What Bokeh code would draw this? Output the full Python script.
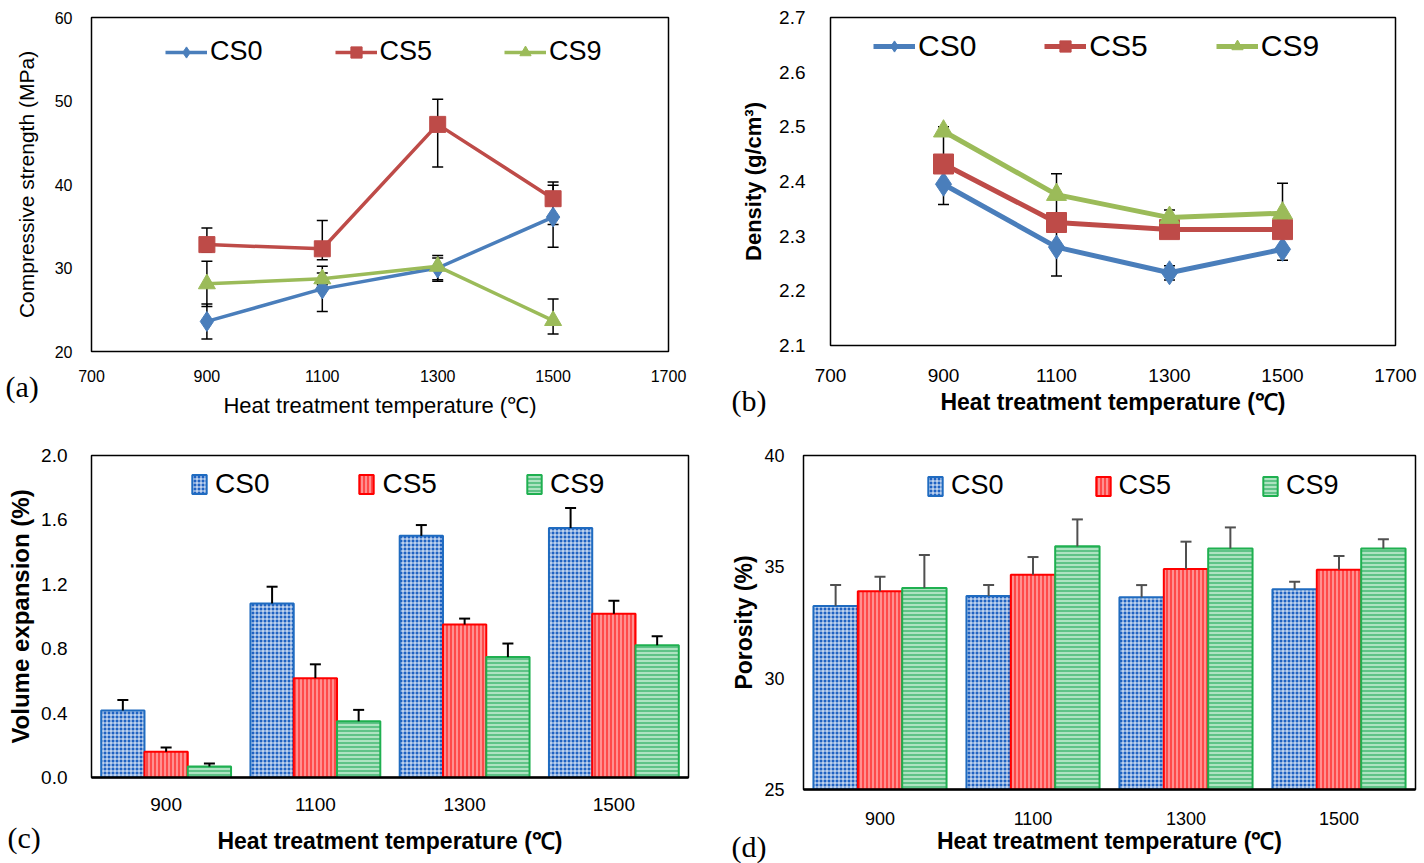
from bokeh.plotting import figure
from bokeh.models import (ColumnDataSource, Whisker, TeeHead, Legend, LegendItem,
                          Label, FixedTicker, Range1d, FactorRange)
from bokeh.transform import dodge
from bokeh.layouts import row, column
from bokeh.embed import file_html
from bokeh.resources import INLINE

# ---------------- data ----------------
temps = [900, 1100, 1300, 1500]
temp_labels = ["900", "1100", "1300", "1500"]
series = ["CS0", "CS5", "CS9"]

# (a) compressive strength (MPa)
strength_cs0 = [23.6, 27.5, 30.0, 36.1]
strength_cs0_lo = [21.5, 24.8, 28.4, 32.5]
strength_cs0_hi = [25.7, 30.2, 31.5, 39.9]
strength_cs5 = [32.8, 32.3, 47.2, 38.3]
strength_cs5_lo = [31.9, 31.0, 42.1, 35.2]
strength_cs5_hi = [34.8, 35.7, 50.2, 40.3]
strength_cs9 = [28.1, 28.7, 30.2, 23.7]
strength_cs9_lo = [25.4, 28.0, 28.6, 22.1]
strength_cs9_hi = [30.8, 29.4, 31.2, 26.3]

# (b) density (g/cm3)
density_cs0 = [2.395, 2.280, 2.233, 2.276]
density_cs0_lo = [2.358, 2.227, 2.220, 2.256]
density_cs0_hi = [2.432, 2.333, 2.246, 2.296]
density_cs5 = [2.432, 2.325, 2.312, 2.312]
density_cs5_lo = [2.424, 2.317, 2.304, 2.304]
density_cs5_hi = [2.440, 2.333, 2.320, 2.320]
density_cs9 = [2.492, 2.376, 2.334, 2.342]
density_cs9_lo = [2.440, 2.338, 2.320, 2.330]
density_cs9_hi = [2.500, 2.414, 2.348, 2.397]

# (c) volume expansion (%)
volume_cs0 = [0.416, 1.081, 1.501, 1.549]
volume_cs0_err = [0.066, 0.104, 0.067, 0.125]
volume_cs5 = [0.160, 0.617, 0.950, 1.017]
volume_cs5_err = [0.027, 0.086, 0.037, 0.081]
volume_cs9 = [0.069, 0.349, 0.748, 0.821]
volume_cs9_err = [0.018, 0.071, 0.084, 0.056]

# (d) porosity (%)
porosity_cs0 = [33.24, 33.69, 33.63, 33.99]
porosity_cs0_err = [0.94, 0.49, 0.55, 0.34]
porosity_cs5 = [33.90, 34.65, 34.90, 34.87]
porosity_cs5_err = [0.66, 0.79, 1.23, 0.62]
porosity_cs9 = [34.05, 35.92, 35.82, 35.82]
porosity_cs9_err = [1.48, 1.21, 0.95, 0.42]

FONT = "Liberation Sans"
SERIF = "Liberation Serif"

line_colors = {"CS0": "#4a7ebb", "CS5": "#be4b48", "CS9": "#9bbb59"}
line_markers = {"CS0": "diamond", "CS5": "square", "CS9": "triangle"}

bar_style = {
    "CS0": dict(fill_color="#1f62c2", line_color="#1f6bc0", hatch_color="white",
                hatch_pattern="cross", hatch_scale=4, hatch_weight=0.9),
    "CS5": dict(fill_color="#ff9090", line_color="#ff0000", hatch_color="#ff2a2a",
                hatch_pattern="vertical_line", hatch_scale=4, hatch_weight=1.4),
    "CS9": dict(fill_color="#aee3c1", line_color="#1fb050", hatch_color="#3cb46e",
                hatch_pattern="horizontal_line", hatch_scale=4, hatch_weight=1.4),
}


def style_axes(p, tick_size, xt_size, yt_size, bold, x_std, y_std, xl_std, yl_std):
    p.outline_line_color = "black"
    p.outline_line_width = 1.5
    p.grid.visible = False
    for ax in p.axis:
        ax.major_tick_line_color = None
        ax.minor_tick_line_color = None
        ax.major_tick_in = 0
        ax.major_tick_out = 0
        ax.minor_tick_out = 0
        ax.axis_line_color = None
        ax.major_label_text_font = FONT
        ax.major_label_text_font_size = tick_size
        ax.major_label_text_color = "black"
        ax.axis_label_text_font = FONT
        ax.axis_label_text_font_style = "bold" if bold else "normal"
        ax.axis_label_text_color = "black"
    p.xaxis.axis_label_text_font_size = xt_size
    p.yaxis.axis_label_text_font_size = yt_size
    p.xaxis.major_label_standoff = x_std
    p.yaxis.major_label_standoff = y_std
    p.xaxis.axis_label_standoff = xl_std
    p.yaxis.axis_label_standoff = yl_std


def new_fig(width, height, borders, x_range, y_range):
    return figure(width=width, height=height, x_range=x_range, y_range=y_range,
                  output_backend="svg", toolbar_location=None, frame_align=False,
                  min_border_left=borders[0], min_border_right=borders[1],
                  min_border_top=borders[2], min_border_bottom=borders[3])


def line_panel(width, height, borders, yr, yticks, ylabel, xlabel, vals, los, his,
               tick_size, xt_size, yt_size, bold, stds, leg_size, leg_loc, leg_spacing,
               fmt, lw, msizes):
    p = new_fig(width, height, borders, Range1d(700, 1700), Range1d(*yr))
    p.xaxis.ticker = FixedTicker(ticks=[700, 900, 1100, 1300, 1500, 1700])
    p.yaxis.ticker = FixedTicker(ticks=yticks)
    if fmt:
        p.yaxis.major_label_overrides = {t: f"{t:.1f}" for t in yticks}
    p.xaxis.axis_label = xlabel
    p.yaxis.axis_label = ylabel
    style_axes(p, tick_size, xt_size, yt_size, bold, *stds)
    items = []
    for s in series:
        src = ColumnDataSource(dict(x=temps, y=vals[s], lo=los[s], hi=his[s]))
        w = Whisker(base="x", upper="hi", lower="lo", source=src, line_color="black",
                    line_width=1.5, level="underlay",
                    upper_head=TeeHead(size=11, line_color="black", line_width=1.5),
                    lower_head=TeeHead(size=11, line_color="black", line_width=1.5))
        p.add_layout(w)
    for s in series:
        src = ColumnDataSource(dict(x=temps, y=vals[s]))
        lr = p.line("x", "y", source=src, line_color=line_colors[s], line_width=lw)
        sr = p.scatter("x", "y", source=src, marker=line_markers[s], size=msizes[s],
                       fill_color=line_colors[s], line_color=line_colors[s])
        items.append(LegendItem(label=s, renderers=[lr, sr]))
    leg = Legend(items=items, orientation="horizontal", location=leg_loc,
                 label_text_font=FONT, label_text_font_size=leg_size,
                 label_text_color="black", glyph_width=42, glyph_height=28,
                 spacing=leg_spacing, padding=0, margin=0, label_standoff=3,
                 border_line_color=None, background_fill_alpha=0)
    p.add_layout(leg)
    return p


def bar_panel(width, height, borders, yr, yticks, ylabel, xlabel, vals, errs,
              tick_size, xt_size, yt_size, stds, leg_size, leg_loc, leg_spacing,
              err_color, fmt):
    p = new_fig(width, height, borders, FactorRange(*temp_labels, range_padding=0),
                Range1d(*yr))
    p.yaxis.ticker = FixedTicker(ticks=yticks)
    if fmt:
        p.yaxis.major_label_overrides = {t: f"{t:.1f}" for t in yticks}
    p.xaxis.axis_label = xlabel
    p.yaxis.axis_label = ylabel
    style_axes(p, tick_size, xt_size, yt_size, True, *stds)
    p.xaxis.axis_line_color = "black"
    p.xaxis.axis_line_width = 2.5
    offsets = {"CS0": -0.29, "CS5": 0.0, "CS9": 0.29}
    items = []
    for s in series:
        top = vals[s]
        hi = [v + e for v, e in zip(vals[s], errs[s])]
        src = ColumnDataSource(dict(x=temp_labels, top=top, hi=hi))
        xs = dodge("x", offsets[s], range=p.x_range)
        r = p.vbar(x=xs, top="top", bottom=yr[0], width=0.29, source=src,
                   line_width=2, **bar_style[s])
        items.append(LegendItem(label=s, renderers=[r]))
        w = Whisker(base=dodge("x", offsets[s], range=p.x_range), upper="hi", lower="top",
                    source=src, line_color=err_color, line_width=2, level="overlay",
                    upper_head=TeeHead(size=11, line_color=err_color, line_width=2),
                    lower_head=None)
        p.add_layout(w)
    leg = Legend(items=items, orientation="horizontal", location=leg_loc,
                 label_text_font=FONT, label_text_font_size=leg_size,
                 label_text_color="black", glyph_width=18, glyph_height=24,
                 spacing=leg_spacing, padding=0, margin=0, label_standoff=7,
                 border_line_color=None, background_fill_alpha=0)
    p.add_layout(leg)
    return p


def canvas_label(text, x, y):
    # placed in a side panel (outside the clipped frame), positioned in canvas pixels
    return Label(x=x, y=y, x_units="canvas", y_units="canvas", text=text,
                 text_font=SERIF, text_font_size="30px", text_color="black",
                 text_baseline="middle", text_align="left")


xlab = "Heat treatment temperature (\u2103)"

pa = line_panel(703, 420, (91, 35, 17, 68), (20, 60), [20, 30, 40, 50, 60],
                "Compressive strength (MPa)", xlab,
                {"CS0": strength_cs0, "CS5": strength_cs5, "CS9": strength_cs9},
                {"CS0": strength_cs0_lo, "CS5": strength_cs5_lo, "CS9": strength_cs9_lo},
                {"CS0": strength_cs0_hi, "CS5": strength_cs5_hi, "CS9": strength_cs9_hi},
                "16px", "22px", "21px", False, (18, 19, 8, 14), "27px", (74, 284), 72,
                False, 3.5, {"CS0": 20, "CS5": 16, "CS9": 17})
pa.add_layout(canvas_label("(a)", 5, 386), "right")

pb = line_panel(721, 420, (127, 29, 17, 75), (2.1, 2.7), [2.1, 2.2, 2.3, 2.4, 2.5, 2.6, 2.7],
                "Density (g/cm\u00b3)", xlab,
                {"CS0": density_cs0, "CS5": density_cs5, "CS9": density_cs9},
                {"CS0": density_cs0_lo, "CS5": density_cs5_lo, "CS9": density_cs9_lo},
                {"CS0": density_cs0_hi, "CS5": density_cs5_hi, "CS9": density_cs9_hi},
                "19px", "23px", "22px", True, (23, 25, 4, 10), "30px", (43, 282), 68,
                True, 5, {"CS0": 24, "CS5": 20, "CS9": 20})
pb.add_layout(canvas_label("(b)", 28, 400), "left")

pc = bar_panel(692, 443, (91, 4, 35, 86), (0, 2.0), [0.0, 0.4, 0.8, 1.2, 1.6, 2.0],
               "Volume expansion (%)", xlab,
               {"CS0": volume_cs0, "CS5": volume_cs5, "CS9": volume_cs9},
               {"CS0": volume_cs0_err, "CS5": volume_cs5_err, "CS9": volume_cs9_err},
               "19px", "23px", "24px", (20, 24, 14, 4), "28px", (99, 277), 88,
               "black", True)
pc.add_layout(canvas_label("(c)", 7, 417), "above")

pd_ = bar_panel(732, 443, (111, 9, 35, 74), (25, 40), [25, 30, 35, 40],
                "Porosity (%)", xlab,
                {"CS0": porosity_cs0, "CS5": porosity_cs5, "CS9": porosity_cs9},
                {"CS0": porosity_cs0_err, "CS5": porosity_cs5_err, "CS9": porosity_cs9_err},
                "18px", "23px", "23px", (22, 19, 0, 4), "27px", (123, 288), 90,
                "#505050", False)
pd_.add_layout(canvas_label("(d)", 39, 426), "left")

layout = column(row(pa, pb), row(pc, pd_))
open("out.html", "w").write(file_html(layout, INLINE))
